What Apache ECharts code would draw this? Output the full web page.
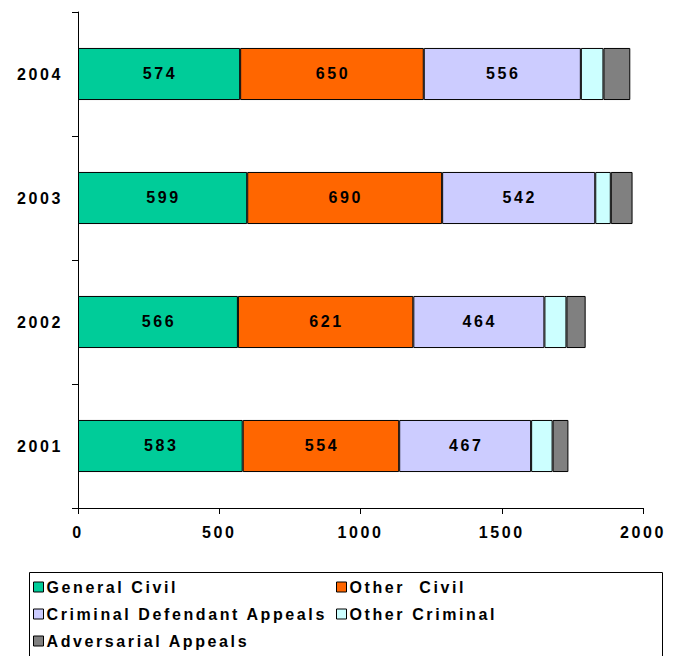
<!DOCTYPE html>
<html><head><meta charset="utf-8">
<script src="https://cdn.jsdelivr.net/npm/echarts@6/dist/echarts.min.js"></script>
<style>html,body{margin:0;padding:0;background:#fff}#c{width:676px;height:656px}#c text{letter-spacing:2.6px}</style>
</head><body><div id="c"></div>
<script>
var categories = ['2001', '2002', '2003', '2004'];
var generalCivil = [583, 566, 599, 574];
var otherCivil = [554, 621, 690, 650];
var criminalDefendant = [467, 464, 542, 556];
var otherCriminal = [76, 78, 55, 80];
var adversarial = [56, 68, 77, 95];
var xTicks = [0, 500, 1000, 1500, 2000];

var names = ['General Civil', 'Other  Civil', 'Criminal Defendant Appeals', 'Other Criminal', 'Adversarial Appeals'];
var colors = ['#00CC99', '#FF6600', '#CCCCFF', '#CCFFFF', '#808080'];
var values = [generalCivil, otherCivil, criminalDefendant, otherCriminal, adversarial];
var font = 'Liberation Sans, Arial, sans-serif';

var series = values.map(function (v, i) {
  return {
    name: names[i], type: 'bar', stack: 'total', data: v,
    barCategoryGap: '58%',
    itemStyle: { color: colors[i], borderColor: '#000', borderWidth: 1 },
    label: {
      show: i < 3, position: 'inside', color: '#000', offset: [1, -1],
      fontFamily: font, fontWeight: 'bold', fontSize: 16
    },
    emphasis: { disabled: true }
  };
});

var legendCommon = {
  orient: 'vertical', itemWidth: 10, itemHeight: 10, itemGap: 11, icon: 'rect',
  itemStyle: { borderColor: '#000', borderWidth: 1 },
  textStyle: { fontFamily: font, fontWeight: 'bold', fontSize: 16, color: '#000', padding: [0, 0, 0, -2] },
  padding: 0, selectedMode: false
};

var chart = echarts.init(document.getElementById('c'), null, { renderer: 'svg' });
chart.setOption({
  animation: false,
  grid: { left: 78, right: 33, top: 12, bottom: 148 },
  xAxis: {
    type: 'value', min: 0, max: 2000, interval: 500,
    axisLine: { show: true, lineStyle: { color: '#000' } },
    axisTick: { show: true, length: 6, lineStyle: { color: '#000' } },
    splitLine: { show: false },
    axisLabel: {
      color: '#000', fontFamily: font, fontWeight: 'bold', fontSize: 16, margin: 16,
      formatter: function (v) { return xTicks.indexOf(v) >= 0 ? String(v) : ''; }
    }
  },
  yAxis: {
    type: 'category', data: categories,
    axisLine: { show: true, lineStyle: { color: '#000' } },
    axisTick: { show: true, length: 6, lineStyle: { color: '#000' } },
    axisLabel: { color: '#000', fontFamily: font, fontWeight: 'bold', fontSize: 16, margin: 15 }
  },
  legend: [
    Object.assign({ left: 33, top: 579, data: [names[0], names[2], names[4]] }, legendCommon),
    Object.assign({ left: 336, top: 579, data: [names[1], names[3]] }, legendCommon)
  ],
  graphic: [{
    type: 'rect', left: 27, top: 570,
    shape: { width: 633, height: 100 },
    style: { fill: 'none', stroke: '#000', lineWidth: 1 }
  }],
  series: series
});
</script></body></html>
